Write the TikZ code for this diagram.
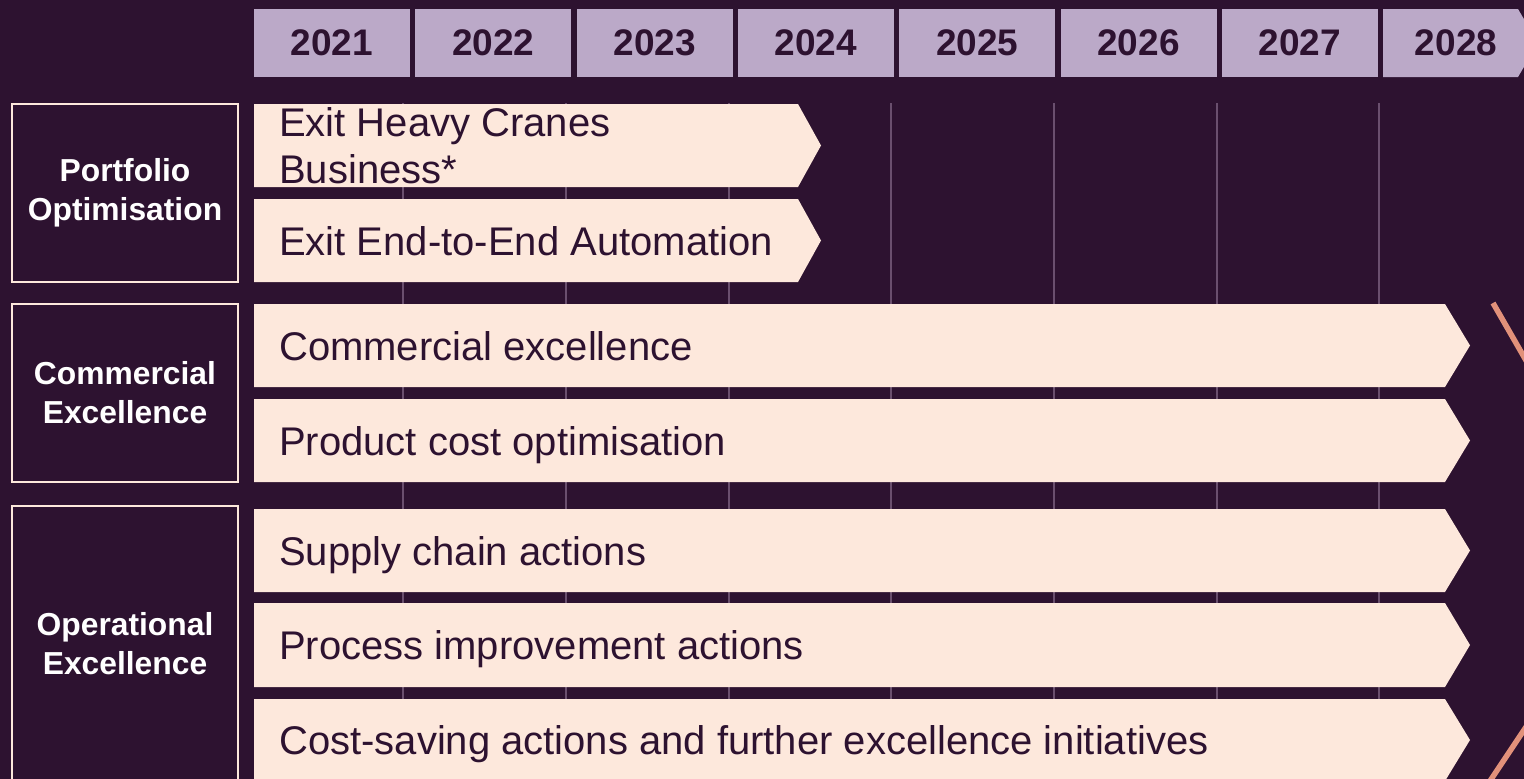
\documentclass[tikz,border=0pt]{standalone}
\usepackage{fontspec}
\setmainfont{Liberation Sans}
\definecolor{bg}{HTML}{2D1230}
\definecolor{hdr}{HTML}{BBA9C8}
\definecolor{peach}{HTML}{FDE8DC}
\definecolor{gridc}{HTML}{6A4F6E}
\definecolor{salmon}{HTML}{E2917A}
\begin{document}
\begin{tikzpicture}[x=1pt,y=-1pt,
  yearbox/.style={fill=hdr,minimum width=156pt,minimum height=68pt,inner sep=0pt,text=bg,font=\bfseries\fontsize{37}{44}\selectfont},
  yeartext/.style={inner sep=0pt,text=bg,font=\bfseries\fontsize{37}{44}\selectfont},
  catbox/.style={draw=peach,line width=2pt,fill=bg,text=white,align=center,inner sep=0pt,minimum width=226pt,font=\bfseries\fontsize{31.8}{39}\selectfont},
  bartext/.style={inner sep=0pt,anchor=base west,text=bg,font=\fontsize{40}{47}\selectfont},
  gridline/.style={draw=gridc,line width=1.5pt},
  barfill/.style={fill=peach},
  accent/.style={draw=salmon,line width=5.5pt}
]
\useasboundingbox (0,0) rectangle (1524,779);
\clip (0,0) rectangle (1524,779);
\fill[bg] (-5,-5) rectangle (1530,785);

% grid lines
\foreach \x in {403,566,729,891,1054,1217,1379}
  \draw[gridline] (\x,103) -- (\x,779);

% header
\foreach \i/\yr in {0/2021,1/2022,2/2023,3/2024,4/2025,5/2026,6/2027}
  \node[yearbox] (y\yr) at ({254+\i*161.3+78},43) {\yr};
\fill[hdr] (1383,9) -- (1518,9) -- (1538,43) -- (1518,77) -- (1383,77) -- cycle;
\node[yeartext] (y2028) at (1456,43) {2028};

% bars
\foreach \t/\b/\s in {104/187/798,199/282/798}
  \fill[barfill] (254,\t) -- (\s,\t) -- ({\s+23},{(\t+\b)/2}) -- (\s,\b) -- (254,\b) -- cycle;
\foreach \t/\b in {304/387,399/482,509/592,603/687,699/781}
  \fill[barfill] (254,\t) -- (1445,\t) -- (1470,{(\t+\b)/2}) -- (1445,\b) -- (254,\b) -- cycle;

\node[bartext,align=left] (b1) at (279,183) {Exit Heavy Cranes\\Business*};
\node[bartext] (b2) at (279,255) {Exit End-to-End Automation};
\node[bartext] (b3) at (279,360) {Commercial excellence};
\node[bartext] (b4) at (279,455) {Product cost optimisation};
\node[bartext] (b5) at (279,565) {Supply chain actions};
\node[bartext] (b6) at (279,659) {Process improvement actions};
\node[bartext] (b7) at (279,754) {Cost-saving actions and further excellence initiatives};

% category boxes
\node[catbox,minimum height=178pt] (po) at (125,193) {Portfolio\\Optimisation};
\node[catbox,minimum height=178pt] (ce) at (125,392.5) {Commercial\\Excellence};
\node[catbox,minimum height=276pt] (oe) at (125,644) {Operational\\Excellence};

% accent chevron
\draw[accent] (1493,303) -- (1570,437);
\draw[accent] (1490,781) -- (1570,661);
\end{tikzpicture}
\end{document}
